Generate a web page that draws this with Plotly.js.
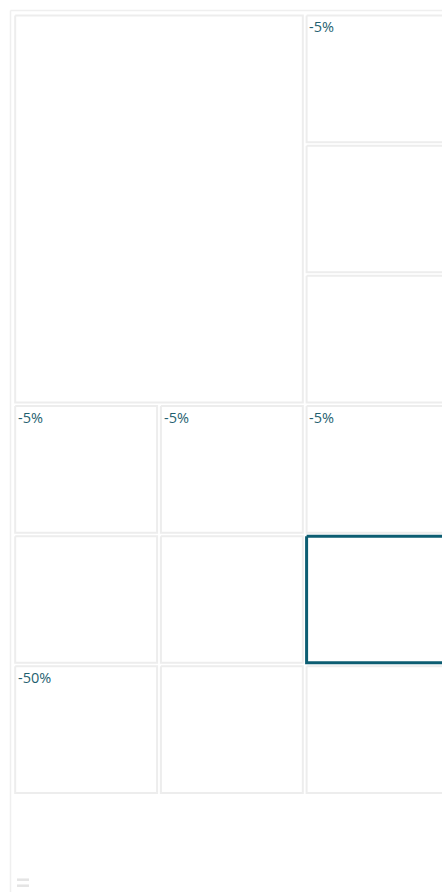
<!DOCTYPE html>
<html>
<head>
<meta charset="utf-8">
<script src="https://cdn.plot.ly/plotly-3.0.1.min.js"></script>
<style>html,body{margin:0;padding:0;background:#fff;}#chart{width:442px;height:892px;}</style>
</head>
<body>
<div id="chart"></div>
<script>
// Grid tiles (row/column indices and spans) and their labels
const cellRow     = [0, 0, 1, 2, 3, 3, 3, 4, 4, 4, 5, 5, 5];
const cellCol     = [0, 2, 2, 2, 0, 1, 2, 0, 1, 2, 0, 1, 2];
const cellRowSpan = [3, 1, 1, 1, 1, 1, 1, 1, 1, 1, 1, 1, 1];
const cellColSpan = [2, 1, 1, 1, 1, 1, 1, 1, 1, 1, 1, 1, 1];
const cellLabel   = ["", "-5%", "", "", "-5%", "-5%", "-5%", "", "", "", "-50%", "", ""];
const selectedCell = 9;

const W = 442, H = 892;
const mL = 14, mT = 14, plotW = 428, plotH = 781.5;
const pitchX = 145.7, pitchY = plotH / 6;
const xMax = plotW / pitchX;

const insL = 1.2 / pitchX, insR = 2.6 / pitchX, insT = 1.5 / pitchY, insB = 2.0 / pitchY;
const teal = "#0c5d72";

const traces = [];
const annotations = [];
cellRow.forEach((r, i) => {
  const c = cellCol[i];
  const x0 = c + insL, x1 = c + cellColSpan[i] - insR;
  const y0 = r + insT, y1 = r + cellRowSpan[i] - insB;
  const sel = i === selectedCell;
  traces.push({
    type: "scatter", mode: "lines",
    x: [x0, x1, x1, x0, x0],
    y: [y0, y0, y1, y1, y0],
    fill: "toself", fillcolor: "#ffffff",
    line: {color: sel ? teal : "#ededed", width: sel ? 3 : 2},
    hoverinfo: "skip", showlegend: false
  });
  if (cellLabel[i]) {
    annotations.push({
      x: c, y: r, xref: "x", yref: "y",
      text: cellLabel[i], showarrow: false,
      xanchor: "left", yanchor: "top", xshift: 2, yshift: -1,
      font: {family: "Open Sans, Noto Sans, sans-serif", size: 14.5, color: "#1f5f70"}
    });
  }
});

const px2paperX = px => (px - mL) / plotW;
const px2paperY = py => (mT + plotH - py) / plotH;

const shapes = [
  {type: "line", xref: "paper", yref: "paper", x0: px2paperX(10.5), x1: px2paperX(460), y0: px2paperY(10.5), y1: px2paperY(10.5), line: {color: "#efefef", width: 1.5}},
  {type: "line", xref: "paper", yref: "paper", x0: px2paperX(10.5), x1: px2paperX(10.5), y0: px2paperY(10.5), y1: px2paperY(900), line: {color: "#efefef", width: 1.5}},
  {type: "rect", xref: "paper", yref: "paper", x0: px2paperX(17), x1: px2paperX(29), y0: px2paperY(879), y1: px2paperY(881.5), fillcolor: "#e4e4e4", line: {width: 0}},
  {type: "rect", xref: "paper", yref: "paper", x0: px2paperX(17), x1: px2paperX(29), y0: px2paperY(885), y1: px2paperY(887.5), fillcolor: "#e4e4e4", line: {width: 0}}
];

const layout = {
  width: W, height: H,
  margin: {l: mL, r: W - mL - plotW, t: mT, b: H - mT - plotH, pad: 0},
  paper_bgcolor: "#ffffff", plot_bgcolor: "#ffffff",
  xaxis: {range: [0, xMax], visible: false, fixedrange: true},
  yaxis: {range: [6, 0], visible: false, fixedrange: true},
  showlegend: false,
  annotations: annotations,
  shapes: shapes
};

Plotly.newPlot("chart", traces, layout, {displayModeBar: false, staticPlot: true});
</script>
</body>
</html>
